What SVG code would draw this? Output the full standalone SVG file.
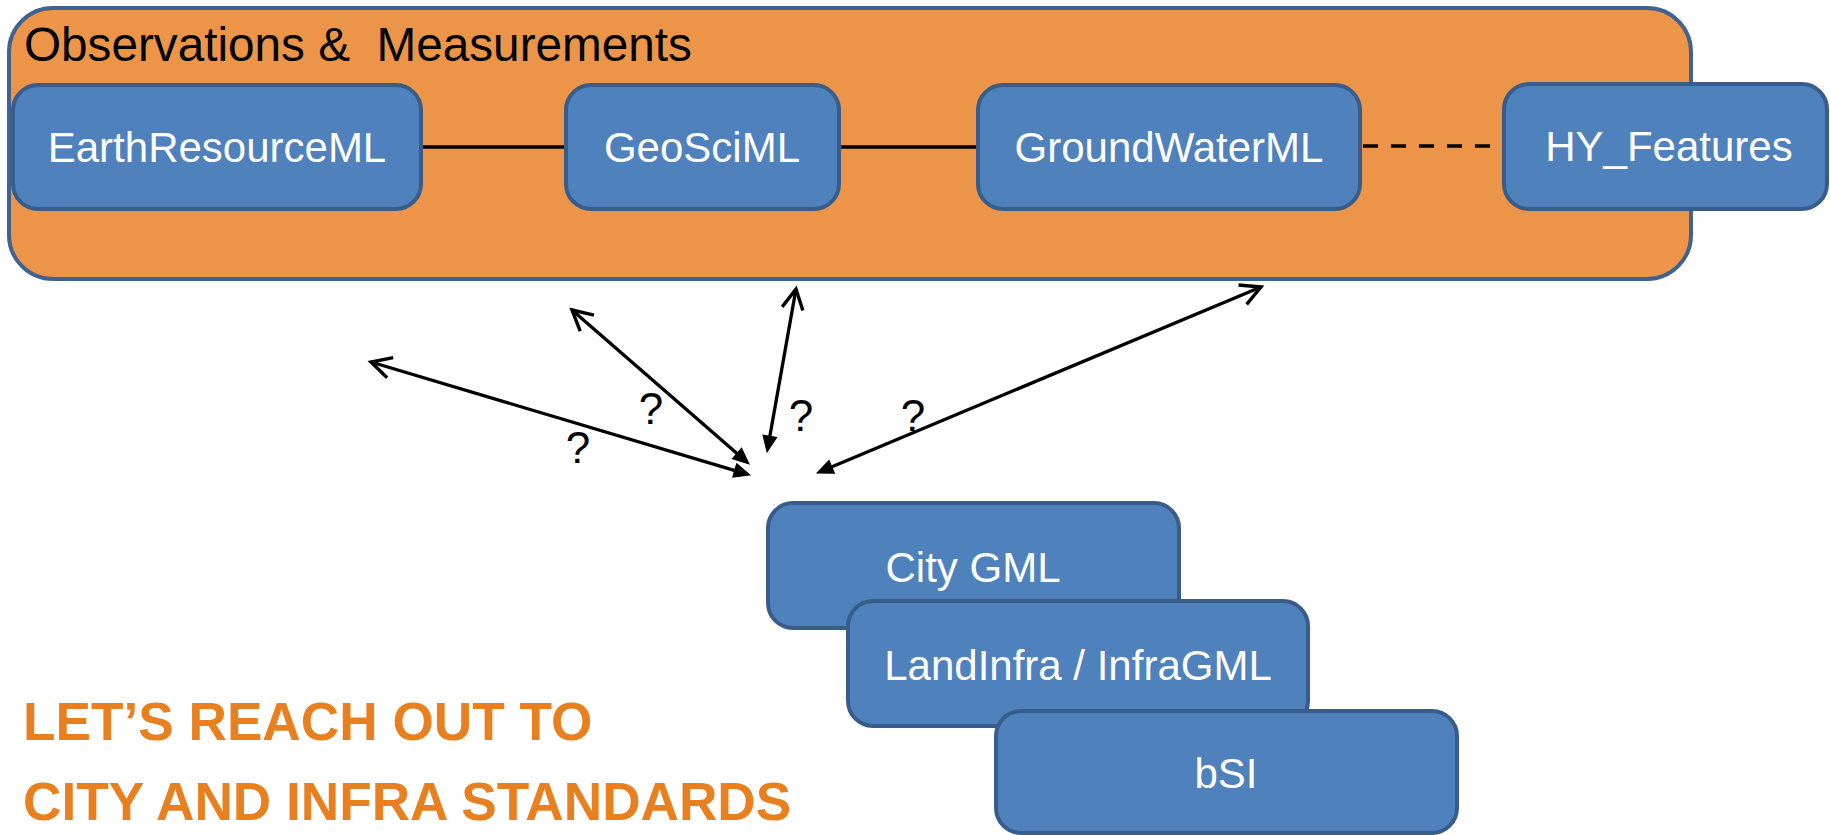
<svg xmlns="http://www.w3.org/2000/svg" width="1830" height="835" viewBox="0 0 1830 835">
  <style>
    .container { fill: #EC9448; stroke: #3F6290; stroke-width: 4; }
    .box { fill: #4F81BD; stroke: #385D8A; stroke-width: 4; }
    .boxtext { font-family: "Liberation Sans", Arial, sans-serif; font-size: 42px; fill: #FFFFFF; text-anchor: middle; }
    .title { font-family: "Liberation Sans", Arial, sans-serif; font-size: 47.7px; fill: #000000; white-space: pre; }
    .link { stroke: #000000; stroke-width: 3.6; fill: none; }
    .dashed { stroke-dasharray: 15 13; }
    .arrow { stroke: #000000; stroke-width: 3.3; fill: none; marker-start: url(#head-filled); marker-end: url(#head-open); }
    .q { font-family: "Liberation Sans", Arial, sans-serif; font-size: 44px; fill: #000000; text-anchor: middle; }
    .callout { font-family: "Liberation Sans", Arial, sans-serif; font-size: 53.2px; font-weight: bold; fill: #E8801F; }
  </style>
  <defs>
    <marker id="head-open" markerUnits="userSpaceOnUse" orient="auto" overflow="visible" markerWidth="1" markerHeight="1" refX="0" refY="0">
      <path d="M -20 -10.5 L 0 0 L -20 10.5" fill="none" stroke="#000000" stroke-width="3.4" stroke-linejoin="miter"/>
    </marker>
    <marker id="head-filled" markerUnits="userSpaceOnUse" orient="auto-start-reverse" overflow="visible" markerWidth="1" markerHeight="1" refX="0" refY="0">
      <path d="M 6 0 L -10 -7 L -10 7 Z" fill="#000000" stroke="#000000" stroke-width="1"/>
    </marker>
  </defs>

  <g id="observations-measurements">
    <rect class="container" x="9" y="8" width="1682" height="271" rx="44" ry="44"/>
    <text class="title" x="24" y="61">Observations &amp;  Measurements</text>
  </g>

  <g id="earthresourceml">
    <rect class="box" x="13" y="85" width="408" height="124" rx="25" ry="25"/>
    <text class="boxtext" x="217" y="162">EarthResourceML</text>
  </g>

  <g id="geosciml">
    <rect class="box" x="566" y="85" width="273" height="124" rx="25" ry="25"/>
    <text class="boxtext" x="702" y="162">GeoSciML</text>
  </g>

  <g id="groundwaterml">
    <rect class="box" x="978" y="85" width="382" height="124" rx="25" ry="25"/>
    <text class="boxtext" x="1169" y="162">GroundWaterML</text>
  </g>

  <g id="hy-features">
    <rect class="box" x="1504" y="84" width="323" height="125" rx="25" ry="25"/>
    <text class="boxtext" x="1669" y="161">HY_Features</text>
  </g>

  <g id="citygml">
    <rect class="box" x="768" y="503" width="411" height="125" rx="25" ry="25"/>
    <text class="boxtext" x="973" y="582">City GML</text>
  </g>

  <g id="landinfra">
    <rect class="box" x="848" y="601" width="460" height="125" rx="25" ry="25"/>
    <text class="boxtext" x="1078" y="680">LandInfra / InfraGML</text>
  </g>

  <g id="bsi">
    <rect class="box" x="996" y="711" width="461" height="122" rx="25" ry="25"/>
    <text class="boxtext" x="1226" y="788">bSI</text>
  </g>

  <g id="connectors">
    <line class="link" x1="423" y1="147" x2="564" y2="147"/>
    <line class="link" x1="841" y1="147" x2="976" y2="147"/>
    <line class="link dashed" x1="1363" y1="146" x2="1502" y2="146"/>

    <line class="arrow" x1="744.3" y1="473.3" x2="371" y2="362"/>
    <line class="arrow" x1="744.5" y1="460.1" x2="572" y2="310"/>
    <line class="arrow" x1="768.1" y1="446.1" x2="796" y2="289"/>
    <line class="arrow" x1="822.5" y1="470.7" x2="1261" y2="287"/>

    <text class="q" x="578" y="463">?</text>
    <text class="q" x="651" y="424">?</text>
    <text class="q" x="801" y="431">?</text>
    <text class="q" x="913" y="431">?</text>
  </g>

  <g id="callout">
    <text class="callout" x="23" y="740">LET’S REACH OUT TO</text>
    <text class="callout" x="23" y="820">CITY AND INFRA STANDARDS</text>
  </g>
</svg>
